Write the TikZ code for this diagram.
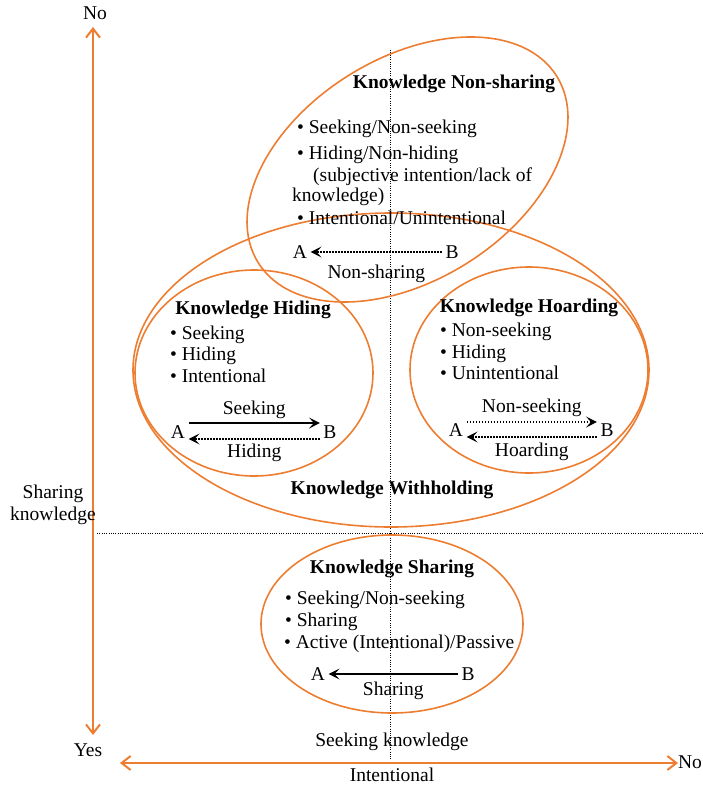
\documentclass[tikz,border=0pt]{standalone}
\usepackage{fontspec}
\setmainfont{Liberation Serif}
\usetikzlibrary{arrows.meta}
\definecolor{kborange}{RGB}{237,125,49}
\newcommand{\kbsize}{\fontsize{19.5}{22}\selectfont}
\tikzset{
  zone/.style={draw=kborange, line width=1.6pt},
  axis/.style={draw=kborange, line width=2pt,
    {Straight Barb[length=9pt,width=14pt]}-{Straight Barb[length=9pt,width=14pt]}},
  guide/.style={line width=0.8pt, dash pattern=on 1pt off 1.3pt},
  flow/.style={line width=1.5pt, -{Stealth[length=11pt,width=11pt,inset=5pt]}},
  weak/.style={flow, dash pattern=on 1.5pt off 1.5pt},
  item/.style={anchor=base west, inner sep=0pt},
  head/.style={font=\kbsize\bfseries, inner sep=0pt}
}
\begin{document}
\begin{tikzpicture}[x=1pt, y=-1pt, font=\kbsize]
  \useasboundingbox (0,0) rectangle (702,785);
  % axes
  \coordinate (vtop) at (93,27);
  \coordinate (vbot) at (93,735);
  \coordinate (hleft) at (120,763);
  \coordinate (hright) at (678,763);
  \draw[axis] (vbot) -- (vtop);
  \draw[axis] (hleft) -- (hright);
  \node (noy) at (95,13) {No};
  \node (yes) at (88,750) {Yes};
  \node (nox) at (690,762) {No};
  \node (seekax) at (392,742) {Seeking knowledge};
  \node (intax) at (392,775) {Intentional};
  \node[align=center] (shareax) at (53,505) {Sharing\\knowledge};
  % guides
  \coordinate (gtop) at (390,50);
  \coordinate (gbot) at (390,760);
  \coordinate (gleft) at (97,533);
  \coordinate (gright) at (702,533);
  \draw[guide] (gtop) -- (gbot);
  \draw[guide] (gleft) -- (gright);
  % zones
  \draw[zone] (407.5,169.5) ellipse [x radius=176, y radius=111, rotate=32];
  \draw[zone] (391,370) ellipse [x radius=258, y radius=157];
  \draw[zone] (254,373) ellipse [x radius=119, y radius=103];
  \draw[zone] (529,370) ellipse [x radius=119, y radius=103];
  \draw[zone] (392,624) ellipse [x radius=131, y radius=89];
  % non-sharing
  \node[head] (nshead) at (454,84) {Knowledge Non-sharing};
  \node[item] (ns1) at (297,133) {• Seeking/Non-seeking};
  \node[item] (ns2) at (297,159) {• Hiding/Non-hiding};
  \node[item] (ns3) at (313,181) {(subjective intention/lack of};
  \node[item] (ns4) at (292,201) {knowledge)};
  \node[item] (ns5) at (297,224) {• Intentional/Unintentional};
  \node (nsA) at (300,252) {A};
  \node (nsB) at (452,252) {B};
  \draw[weak] (nsB) -- (nsA) node[midway, below=9pt] (nslbl) {Non-sharing};
  % hiding
  \node[head] (hihead) at (253,310) {Knowledge Hiding};
  \node[item] (hi1) at (170,339) {• Seeking};
  \node[item] (hi2) at (170,360) {• Hiding};
  \node[item] (hi3) at (170,382) {• Intentional};
  \node (hiA) at (178,432) {A};
  \node (hiB) at (330,432) {B};
  \draw[flow] ([yshift=9pt]hiA.east) -- ([yshift=9pt]hiB.west)
    node[midway, above] (hiseek) {Seeking};
  \draw[weak] ([yshift=-7pt]hiB.west) -- ([yshift=-7pt]hiA.east)
    node[midway, below=1pt] (hihide) {Hiding};
  % hoarding
  \node[head] (hohead) at (529,308) {Knowledge Hoarding};
  \node[item] (ho1) at (440,336) {• Non-seeking};
  \node[item] (ho2) at (440,358) {• Hiding};
  \node[item] (ho3) at (440,379) {• Unintentional};
  \node (hoA) at (456,430) {A};
  \node (hoB) at (607,430) {B};
  \draw[weak] ([yshift=8pt]hoA.east) -- ([yshift=8pt]hoB.west)
    node[midway, above=1pt] (honseek) {Non-seeking};
  \draw[weak] ([yshift=-7pt]hoB.west) -- ([yshift=-7pt]hoA.east)
    node[midway, below=2pt] (hohoard) {Hoarding};
  \node[head] (wihead) at (392,490) {Knowledge Withholding};
  % sharing
  \node[head] (shhead) at (392,569) {Knowledge Sharing};
  \node[item] (sh1) at (285,604) {• Seeking/Non-seeking};
  \node[item] (sh2) at (285,626) {• Sharing};
  \node[item] (sh3) at (284,648) {• Active (Intentional)/Passive};
  \node (shA) at (318,674) {A};
  \node (shB) at (468,674) {B};
  \draw[flow] (shB) -- (shA) node[midway, below=4pt] (shlbl) {Sharing};
\end{tikzpicture}
\end{document}
